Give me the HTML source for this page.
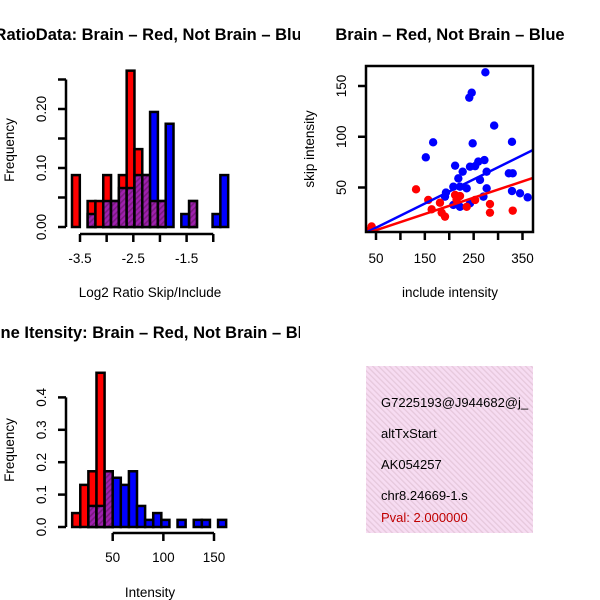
<!DOCTYPE html>
<html><head><meta charset="utf-8"><style>
html,body{margin:0;padding:0;background:#fff}
svg{display:block;font-family:"Liberation Sans",sans-serif}
</style></head><body>
<svg id="s" width="600" height="600" viewBox="0 0 600 600" xmlns="http://www.w3.org/2000/svg">
<defs>
<pattern id="ph" width="4" height="4" patternUnits="userSpaceOnUse" patternTransform="rotate(45)">
<rect width="4" height="4" fill="#a020b0"/><rect width="1.6" height="4" fill="#7a1a80"/></pattern>
<pattern id="pk" width="4" height="4" patternUnits="userSpaceOnUse" patternTransform="rotate(-45)">
<rect width="4" height="4" fill="#f7dcf2"/><rect width="1.3" height="4" fill="#e6c8dc"/></pattern>
<clipPath id="cl"><rect x="0" y="0" width="300" height="600"/></clipPath>
<clipPath id="cbox"><rect x="366" y="66" width="167" height="166"/></clipPath>
<clipPath id="ctxt"><rect x="366" y="366" width="167" height="167"/></clipPath>
</defs>
<g id="h1"></g>
<g id="sc"></g>
<g id="h2"></g>
<g>
<rect x="366" y="366" width="167" height="167" fill="url(#pk)"/>
<g clip-path="url(#ctxt)" font-size="13">
<text x="381" y="407">G7225193@J944682@j_</text>
<text x="381" y="438">altTxStart</text>
<text x="381" y="469">AK054257</text>
<text x="381" y="500">chr8.24669-1.s</text>
<text x="381" y="522" fill="#c00000">Pval: 2.000000</text>
</g></g>
</svg>
<script>
const NS="http://www.w3.org/2000/svg";
function mk(p,t,a,txt){const e=document.createElementNS(NS,t);for(const k in a)e.setAttribute(k,a[k]);if(txt!==undefined)e.textContent=txt;p.appendChild(e);return e;}

// ---- Histogram 1 data ----
const h1Start=-3.65, h1Width=0.1465;
const h1Red=[0.088,0,0.044,0.044,0.088,0.044,0.088,0.265,0.132,0.088,0.044,0.044,0,0,0,0.044,0,0,0,0];
const h1Blue=[0,0,0.022,0,0.044,0.044,0.066,0.066,0.088,0.088,0.195,0.044,0.175,0,0.022,0.044,0,0,0.022,0.088];
const h1XTicks=[-3.5,-3.0,-2.5,-2.0,-1.5,-1.0];
const h1XLabels=["-3.5","","-2.5","","-1.5",""];
const h1YTicks=[0,0.05,0.10,0.15,0.20,0.25];
const h1YLabels=["0.00","","0.10","","0.20",""];
// ---- Histogram 2 data ----
const h2Start=10, h2Width=8;
const h2Red=[0.043,0.13,0.172,0.476,0.172,0,0,0,0,0,0,0,0,0,0,0,0,0,0];
const h2Blue=[0,0,0.065,0.065,0.172,0.152,0.13,0.172,0.065,0.022,0.043,0.022,0,0.022,0,0.022,0.022,0,0.022];
const h2XTicks=[50,100,150];
const h2YTicks=[0,0.1,0.2,0.3,0.4];
const h2YLabels=["0.0","0.1","0.2","0.3","0.4"];
// ---- Scatter data ----
const blueX=[274,246,241,292,167,248,328.5,152,272,259.5,253,242.5,212,227.5,276.6,322,330,218.6,263,208.4,222,235.7,276.6,193.3,191.3,328.5,345,360.6,270,208.4,222,242.5,31];
const blueY=[163.5,143.4,138.5,111,94.5,93.5,95,79.7,77,75.5,71,70.5,71.5,65.6,65.6,64,64,59,57.5,50.8,50.8,49.2,49.2,45,41,46.5,44.3,40.3,41,32.8,31,34.4,6.5];
const redX=[132,41,157,164,181,184.5,191.3,212,222,215,235.7,253,283.4,283.4,330,37.7];
const redY=[48.2,11.6,37.7,28.5,35,25.2,21.3,42.6,41.6,37.7,31,37.7,33.7,25.2,27.2,8];
const blueFit=[-1.5,0.238];
const redFit=[-0.06,0.16];
const scXTicks=[50,100,150,200,250,300,350];
const scXLabels=["50","","150","","250","","350"];
const scYTicks=[50,100,150];

const FS=13.5, TFS=16.5;
function hist(g,o){
  const {x,y,start,width,red,blue}=o;
  red.forEach((r,i)=>{
    const b=blue[i],x0=x(start+i*width),x1=x(start+(i+1)*width);
    const hi=Math.max(r,b),lo=Math.min(r,b);
    if(hi>0){const e=mk(g,"rect",{x:x0,y:y(hi),width:x1-x0,height:y(0)-y(hi),fill:r>=b?"#ff0000":"#0000ff",stroke:"#000","stroke-width":2.5});
      
      }
    if(lo>0){const e=mk(g,"rect",{x:x0,y:y(lo),width:x1-x0,height:y(0)-y(lo),fill:"url(#ph)",stroke:"#000","stroke-width":2.5});
      
      }
  });
}
function yaxis(g,y,ax,ticks,labels){
  mk(g,"line",{x1:ax,x2:ax,y1:y(ticks[0]),y2:y(ticks[ticks.length-1]),stroke:"#000","stroke-width":2.5});
  ticks.forEach((t,i)=>{mk(g,"line",{x1:ax,x2:ax-8,y1:y(t),y2:y(t),stroke:"#000","stroke-width":2.5});
    if(labels[i]){const e=mk(g,"text",{x:0,y:0,"font-size":FS,"text-anchor":"middle",transform:`translate(${ax-20},${y(t)}) rotate(-90)`},labels[i]);
      
      }});
}
function xaxis(g,x,ay,ticks,labels){
  mk(g,"line",{x1:x(ticks[0]),x2:x(ticks[ticks.length-1]),y1:ay,y2:ay,stroke:"#000","stroke-width":2.5});
  ticks.forEach((t,i)=>{mk(g,"line",{x1:x(t),x2:x(t),y1:ay,y2:ay+8,stroke:"#000","stroke-width":2.5});
    if(labels[i]){const e=mk(g,"text",{x:x(t),y:ay+29,"font-size":FS,"text-anchor":"middle"},labels[i]);
      
      }});
}

// Histogram 1
{
  const g=document.getElementById("h1");
  const x=v=>80+(v+3.5)*53.3, y=v=>227-v*590;
  hist(g,{x,y,start:h1Start,width:h1Width,red:h1Red,blue:h1Blue});
  yaxis(g,y,66,h1YTicks,h1YLabels);
  xaxis(g,x,234,h1XTicks,h1XLabels);
  const t=mk(g,"text",{x:133,y:40,"font-size":TFS,"font-weight":"bold","text-anchor":"middle","clip-path":"url(#cl)"},"Log2RatioData: Brain \u2013 Red, Not Brain \u2013 Blue");
  
  const xl=mk(g,"text",{x:150,y:297,"font-size":FS,"text-anchor":"middle"},"Log2 Ratio Skip/Include");
  
  const yl=mk(g,"text",{x:0,y:0,"font-size":FS,"text-anchor":"middle",transform:"translate(14,150) rotate(-90)"},"Frequency");
  
}
// Histogram 2
{
  const g=document.getElementById("h2");
  const x=v=>112.7+(v-50)*1.013, y=v=>527-v*324;
  hist(g,{x,y,start:h2Start,width:h2Width,red:h2Red,blue:h2Blue});
  yaxis(g,y,66,h2YTicks,h2YLabels);
  xaxis(g,x,533,h2XTicks,h2XTicks.map(String));
  const t=mk(g,"text",{x:150,y:338,"font-size":TFS,"font-weight":"bold","text-anchor":"middle","clip-path":"url(#cl)"},"Gene Itensity: Brain \u2013 Red, Not Brain \u2013 Blue");
  
  const xl=mk(g,"text",{x:150,y:597,"font-size":FS,"text-anchor":"middle"},"Intensity");
  
  const yl=mk(g,"text",{x:0,y:0,"font-size":FS,"text-anchor":"middle",transform:"translate(14,450) rotate(-90)"},"Frequency");
  
}
// Scatter
{
  const g=document.getElementById("sc");
  const x=v=>376+(v-50)*0.4883, y=v=>187.5-(v-50)*1.015;
  const inner=mk(g,"g",{"clip-path":"url(#cbox)"});
  blueX.forEach((v,i)=>{const c=mk(inner,"circle",{cx:x(v),cy:y(blueY[i]),r:4.2,fill:"#0000ff"});
    });
  redX.forEach((v,i)=>{const c=mk(inner,"circle",{cx:x(v),cy:y(redY[i]),r:4.2,fill:"#ff0000"});
    });
  const lx0=20,lx1=390;
  const bl=mk(inner,"line",{x1:x(lx0),y1:y(blueFit[0]+blueFit[1]*lx0),x2:x(lx1),y2:y(blueFit[0]+blueFit[1]*lx1),stroke:"#0000ff","stroke-width":2.5});
  
  const rl=mk(inner,"line",{x1:x(lx0),y1:y(redFit[0]+redFit[1]*lx0),x2:x(lx1),y2:y(redFit[0]+redFit[1]*lx1),stroke:"#ff0000","stroke-width":2.5});
  
  const box=mk(g,"rect",{x:366,y:66,width:167,height:166,fill:"none",stroke:"#000","stroke-width":2.5});
  
  scXTicks.forEach((t,i)=>{mk(g,"line",{x1:x(t),x2:x(t),y1:232,y2:240,stroke:"#000","stroke-width":2.5});
    if(scXLabels[i]){const e=mk(g,"text",{x:x(t),y:263,"font-size":FS,"text-anchor":"middle"},scXLabels[i]);
      }});
  scYTicks.forEach(t=>{mk(g,"line",{x1:366,x2:358,y1:y(t),y2:y(t),stroke:"#000","stroke-width":2.5});
    const e=mk(g,"text",{x:0,y:0,"font-size":FS,"text-anchor":"middle",transform:`translate(${346},${y(t)}) rotate(-90)`},String(t));
    });
  const t=mk(g,"text",{x:450,y:40,"font-size":TFS,"font-weight":"bold","text-anchor":"middle"},"Brain \u2013 Red, Not Brain \u2013 Blue");
  
  const xl=mk(g,"text",{x:450,y:297,"font-size":FS,"text-anchor":"middle"},"include intensity");
  
  const yl=mk(g,"text",{x:0,y:0,"font-size":FS,"text-anchor":"middle",transform:"translate(314,149) rotate(-90)"},"skip intensity");
  
}
</script>
</body></html>
